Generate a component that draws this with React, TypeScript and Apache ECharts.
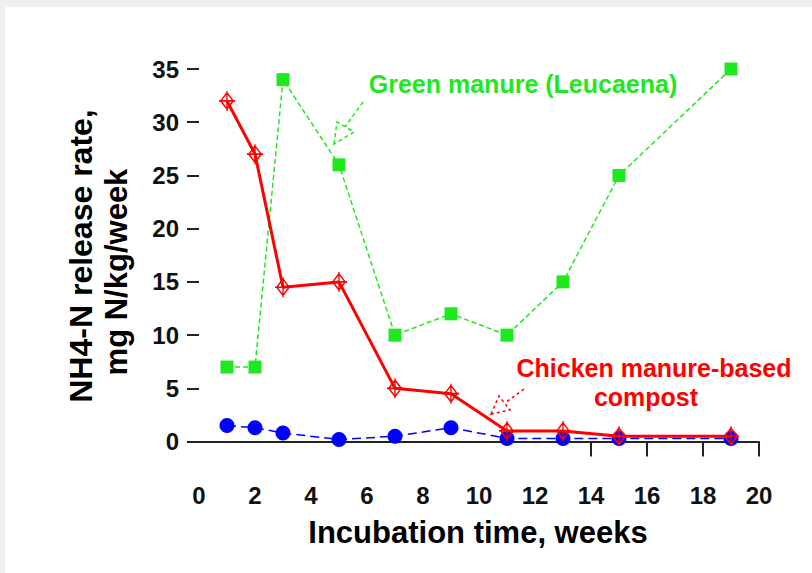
import React, { useEffect, useRef } from "react";
import * as echarts from "echarts";

const weeks = [1, 2, 3, 5, 7, 9, 11, 13, 15, 19];
const greenManure = [7, 7, 34, 26, 10, 12, 10, 15, 25, 35];
const chickenCompost = [32, 27, 14.5, 15, 5, 4.5, 1, 1, 0.5, 0.5];
const control = [1.5, 1.3, 0.8, 0.2, 0.5, 1.3, 0.3, 0.3, 0.3, 0.3];
const xTickLabels = [0, 2, 4, 6, 8, 10, 12, 14, 16, 18, 20];
const xTickMarks = [14, 16, 18, 20];
const yTickLabels = [0, 5, 10, 15, 20, 25, 30, 35];

const GREEN = "#1ee81e";
const RED = "#ff0000";
const BLUE = "#0000ff";
const FONT = "'Liberation Sans', Arial, sans-serif";

const pair = (vals: number[]) => weeks.map((w, i) => [w, vals[i]]);

const crossDiamond =
  "path://M0,-9 L7,0 L0,9 L-7,0 Z M0,-11 L0,11 M-9,0 L9,0";

export default function App() {
  const ref = useRef<HTMLDivElement>(null);
  useEffect(() => {
    if (!ref.current) return;
    const chart = echarts.init(ref.current, null, { renderer: "svg" });
    chart.setOption({
      animation: false,
      backgroundColor: "transparent",
      grid: { left: 199, right: 53, top: 69, bottom: 108, containLabel: false },
      xAxis: {
        type: "value",
        min: 0,
        max: 20,
        interval: 2,
        axisLine: { show: true, lineStyle: { color: "#222", width: 2 } },
        axisTick: {
          show: true,
          customValues: xTickMarks,
          length: 15,
          lineStyle: { color: "#222", width: 2 },
        },
        axisLabel: {
          customValues: xTickLabels,
          margin: 18,
          fontFamily: FONT,
          fontWeight: "bold",
          fontSize: 24,
          color: "#111",
        },
        splitLine: { show: false },
      },
      yAxis: {
        type: "value",
        min: -2.2,
        max: 35,
        axisLine: { show: false },
        axisTick: {
          show: true,
          customValues: yTickLabels,
          length: 12,
          lineStyle: { color: "#222", width: 2 },
        },
        axisLabel: {
          customValues: yTickLabels,
          margin: 20,
          fontFamily: FONT,
          fontWeight: "bold",
          fontSize: 24,
          color: "#111",
        },
        splitLine: { show: false },
      },
      series: [
        {
          name: "Green manure (Leucaena)",
          type: "line",
          data: pair(greenManure),
          symbol: "rect",
          symbolSize: 13,
          itemStyle: { color: GREEN },
          lineStyle: { color: GREEN, width: 1.5, type: [5, 3] },
          z: 2,
        },
        {
          name: "Control",
          type: "line",
          data: pair(control),
          symbol: "circle",
          symbolSize: 15,
          itemStyle: { color: BLUE },
          lineStyle: { color: BLUE, width: 1.5, type: [9, 5] },
          z: 3,
        },
        {
          name: "Chicken manure-based compost",
          type: "line",
          data: pair(chickenCompost),
          symbol: crossDiamond,
          symbolSize: [16, 20],
          itemStyle: {
            color: "rgba(0,0,0,0)",
            borderColor: RED,
            borderWidth: 1.5,
          },
          lineStyle: { color: RED, width: 3 },
          z: 4,
        },
      ],
      graphic: [
        {
          type: "text",
          x: 81,
          y: 256,
          rotation: Math.PI / 2,
          style: {
            text: "NH4-N release rate,",
            font: `bold 32px ${FONT}`,
            fill: "#000",
            align: "center",
            verticalAlign: "middle",
          },
        },
        {
          type: "text",
          x: 116,
          y: 272,
          rotation: Math.PI / 2,
          style: {
            text: "mg N/kg/week",
            font: `bold 31px ${FONT}`,
            fill: "#000",
            align: "center",
            verticalAlign: "middle",
          },
        },
        {
          type: "text",
          x: 478,
          y: 532,
          style: {
            text: "Incubation time, weeks",
            font: `bold 31px ${FONT}`,
            fill: "#000",
            align: "center",
            verticalAlign: "middle",
          },
        },
        {
          type: "text",
          x: 523,
          y: 84,
          style: {
            text: "Green manure (Leucaena)",
            font: `bold 25px ${FONT}`,
            fill: GREEN,
            align: "center",
            verticalAlign: "middle",
          },
        },
        {
          type: "text",
          x: 654,
          y: 368,
          style: {
            text: "Chicken manure-based",
            font: `bold 25px ${FONT}`,
            fill: RED,
            align: "center",
            verticalAlign: "middle",
          },
        },
        {
          type: "text",
          x: 646,
          y: 397,
          style: {
            text: "compost",
            font: `bold 25px ${FONT}`,
            fill: RED,
            align: "center",
            verticalAlign: "middle",
          },
        },
        {
          type: "polyline",
          shape: { points: [[363, 102], [345, 127]] },
          style: { stroke: GREEN, lineWidth: 1.5, lineDash: [4, 3], fill: null },
        },
        {
          type: "polygon",
          shape: { points: [[334, 144], [337, 122], [354, 132]] },
          style: { stroke: GREEN, lineWidth: 1.5, lineDash: [4, 3], fill: "rgba(0,0,0,0)" },
        },
        {
          type: "polyline",
          shape: { points: [[524, 389], [505, 403]] },
          style: { stroke: RED, lineWidth: 1.5, lineDash: [3, 3], fill: null },
        },
        {
          type: "polygon",
          shape: { points: [[491, 414], [499, 396], [510, 410]] },
          style: { stroke: RED, lineWidth: 1.5, lineDash: [3, 3], fill: "rgba(0,0,0,0)" },
        },
      ],
    });
    return () => chart.dispose();
  }, []);
  return (
    <div
      style={{
        position: "fixed",
        left: 0,
        top: 0,
        width: 812,
        height: 573,
        background: "#efefef",
      }}
    >
      <div
        style={{
          position: "absolute",
          left: 5,
          top: 7,
          right: 0,
          bottom: 0,
          background: "#ffffff",
        }}
      />
      <div
        ref={ref}
        style={{ position: "absolute", left: 0, top: 0, width: 812, height: 573 }}
      />
    </div>
  );
}
